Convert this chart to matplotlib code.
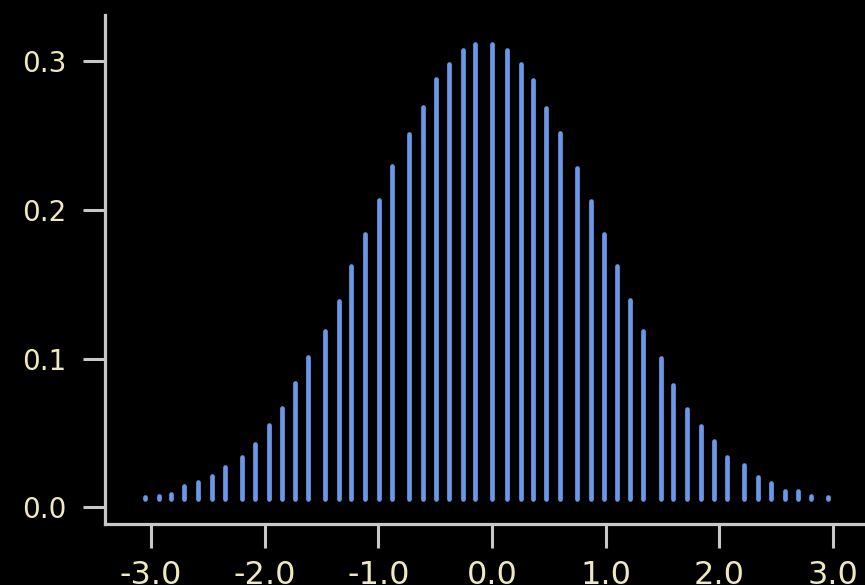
import numpy as np
import matplotlib
matplotlib.use("Agg")
import matplotlib.pyplot as plt

#Bar positions and heights
x_pos = [-3.055, -2.932, -2.821, -2.707, -2.586, -2.463, -2.349, -2.199, -2.082, -1.964,
         -1.845, -1.736, -1.617, -1.472, -1.349, -1.240, -1.117, -0.994, -0.880, -0.728,
         -0.610, -0.493, -0.378, -0.255, -0.150, 0.003, 0.129, 0.252, 0.361, 0.478,
         0.598, 0.748, 0.868, 0.983, 1.097, 1.211, 1.328, 1.487, 1.592, 1.713,
         1.836, 1.950, 2.065, 2.214, 2.340, 2.455, 2.575, 2.689, 2.804, 2.953]
heights = [0.0071, 0.0077, 0.0091, 0.0142, 0.0171, 0.0212, 0.0272, 0.0339, 0.0425, 0.0552,
           0.0669, 0.0837, 0.1011, 0.1186, 0.1388, 0.1621, 0.1836, 0.2065, 0.2293, 0.2510,
           0.2695, 0.2878, 0.2983, 0.3077, 0.3118, 0.3118, 0.3077, 0.2984, 0.2870, 0.2688,
           0.2517, 0.2282, 0.2058, 0.1836, 0.1621, 0.1392, 0.1184, 0.1005, 0.0825, 0.0660,
           0.0548, 0.0445, 0.0337, 0.0284, 0.0207, 0.0163, 0.0114, 0.0110, 0.0075, 0.0071]

x_ticks = [-3.0, -2.0, -1.0, 0.0, 1.0, 2.0, 3.0]
y_ticks = [0.0, 0.1, 0.2, 0.3]

bar_color = "#6a98e8"
axis_color = "#c8c8c8"
text_color = "#efe9bb"

plt.rcParams['axes.unicode_minus'] = False
plt.rcParams['font.family'] = ['DejaVu Sans']

fig = plt.figure(figsize=(8.65, 5.85), dpi=100, facecolor="black")
ax = fig.add_axes([105/865, 61/585, 773.5/865, 509/585])
ax.set_facecolor("black")

#Thin vertical bars with round ends
ax.vlines(x_pos, 0.0057, heights, colors=bar_color, linewidth=3.4, capstyle='round')

ax.set_xlim(-3.405, 3.4)
ax.set_ylim(-0.0111, 0.331)

ax.set_xticks(x_ticks)
ax.set_xticklabels([f"{v:.1f}" for v in x_ticks])
ax.set_yticks(y_ticks)
ax.set_yticklabels([f"{v:.1f}" for v in y_ticks])

#Axis styling
for side in ['top', 'right']:
    ax.spines[side].set_visible(False)
for side in ['left', 'bottom']:
    ax.spines[side].set_color(axis_color)
    ax.spines[side].set_linewidth(2.3)
    ax.spines[side].set_capstyle('projecting')

ax.tick_params(axis='x', colors=axis_color, length=17, width=2.2, pad=9,
               labelsize=23, labelcolor=text_color)
ax.tick_params(axis='y', colors=axis_color, length=16, width=2.2, pad=12,
               labelsize=20, labelcolor=text_color)

fig.savefig("out.png", dpi=100, facecolor="black")
